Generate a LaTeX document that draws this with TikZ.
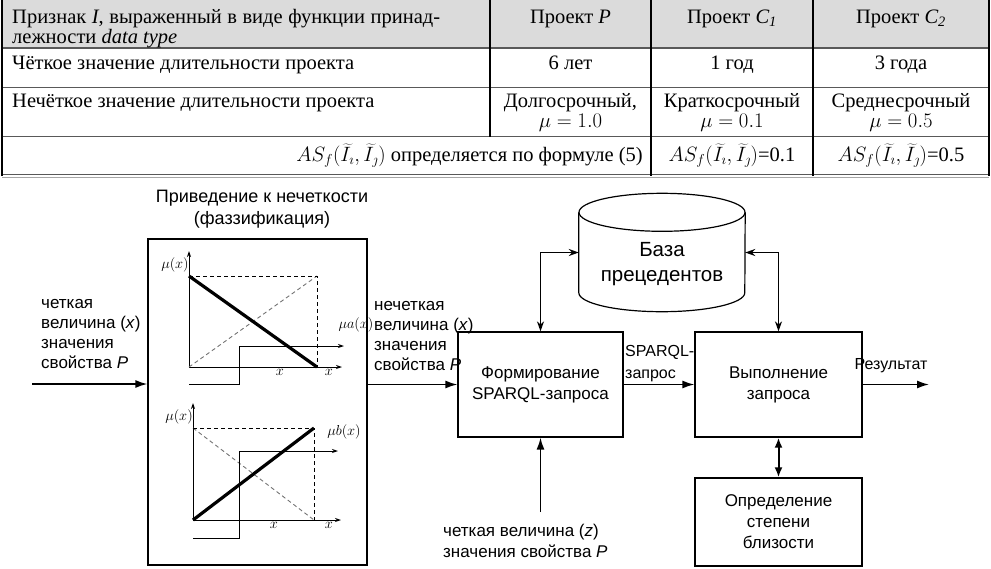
\documentclass[tikz,border=0pt]{standalone}
\usepackage{fontspec}
\setmainfont{Liberation Serif}
\setsansfont{Liberation Sans}
\usetikzlibrary{arrows.meta}
\begin{document}
\begin{tikzpicture}[x=1pt,y=-1pt,
  tt/.style={font=\fontsize{20.5}{20}\selectfont, inner sep=0pt},
  hline/.style={draw=black!65, line width=1.6pt},
  vline/.style={draw=black, line width=1.1pt},
  dt/.style={font=\sffamily\fontsize{17}{20.3}\selectfont, inner sep=0pt, align=left},
  box/.style={draw, line width=1.3pt, align=center, font=\sffamily\fontsize{17}{21}\selectfont, inner sep=0pt},
  conn/.style={line width=1.5pt, -{Latex[length=12pt,width=8pt]}},
  dconn/.style={line width=1.4pt, {Stealth[length=10pt,width=7pt]}-{Stealth[length=10pt,width=7pt]}},
  bconn/.style={line width=2pt, {Latex[length=10pt,width=8pt]}-{Latex[length=10pt,width=8pt]}},
  axis/.style={line width=0.9pt, -{Stealth[length=6pt,width=4pt]}},
  thick line/.style={line width=3.2pt},
  dsh/.style={line width=0.9pt, dash pattern=on 4pt off 3pt},
  gdsh/.style={line width=0.9pt, dash pattern=on 4pt off 3pt, draw=black!55},
  glab/.style={font=\fontsize{13.5}{13.5}\selectfont, inner sep=0pt}
]
\useasboundingbox (0,0) rectangle (991,568);

% ---------------- table ----------------
\fill[black!14] (2,0) rectangle (989,48);
\draw[hline] (2,48) -- (989,48);
\draw[hline] (2,87.5) -- (989,87.5);
\draw[hline] (2,136.5) -- (989,136.5);
\draw[hline] (2,174.5) -- (989,174.5);
\draw[draw=black!35, line width=1pt] (2,177.5) -- (989,177.5);
\draw[vline] (2,0) -- (2,176);
\draw[vline] (490,0) -- (490,136.5);
\draw[vline] (651,0) -- (651,176);
\draw[vline] (813,0) -- (813,176);
\draw[vline] (989,0) -- (989,176);

\node[tt, anchor=base west] (h1a) at (12,23) {\makebox[428pt][s]{Признак \textit{I}, выраженный в виде функции принад-}};
\node[tt, anchor=base west] (h1b) at (12,43) {лежности \textit{data type}};
\node[tt, anchor=base] (h2) at (570.5,23) {Проект \textit{P}};
\node[tt, anchor=base] (h3) at (732,23) {Проект \textit{C\textsubscript{1}}};
\node[tt, anchor=base] (h4) at (901,23) {Проект \textit{C\textsubscript{2}}};

\node[tt, anchor=base west] (r1a) at (12,69) {Чёткое значение длительности проекта};
\node[tt, anchor=base] (r1b) at (570.5,69) {6 лет};
\node[tt, anchor=base] (r1c) at (732,69) {1 год};
\node[tt, anchor=base] (r1d) at (901,69) {3 года};

\node[tt, anchor=base west] (r2a) at (12,107) {Нечёткое значение длительности проекта};
\node[tt, anchor=base] (r2b) at (570.5,107) {Долгосрочный,};
\node[tt, anchor=base] (r2c) at (732,107) {Краткосрочный};
\node[tt, anchor=base] (r2d) at (901,107) {Среднесрочный};
\node[tt, anchor=base] (r2e) at (570.5,127) {$\mu = 1.0$};
\node[tt, anchor=base] (r2f) at (732,127) {$\mu = 0.1$};
\node[tt, anchor=base] (r2g) at (901,127) {$\mu = 0.5$};

\node[tt, anchor=base east] (r3a) at (643,161) {$AS_f\bigl(\widetilde{I}_\imath,\widetilde{I}_\jmath\bigr)$ определяется по формуле (5)};
\node[tt, anchor=base] (r3b) at (732,161) {$AS_f\bigl(\widetilde{I}_\imath,\widetilde{I}_\jmath\bigr)$=0.1};
\node[tt, anchor=base] (r3c) at (901,161) {$AS_f\bigl(\widetilde{I}_\imath,\widetilde{I}_\jmath\bigr)$=0.5};

% ---------------- diagram ----------------
\node[font=\sffamily\fontsize{18}{22}\selectfont, align=center, inner sep=0pt] (title) at (262,209) {Приведение к нечеткости\\(фаззификация)};

\node[draw, line width=1.3pt, minimum width=219pt, minimum height=326pt, inner sep=0pt] (fz) at (257.5,402) {};

% top graph
\draw[axis] (189,367) -- (189,251);
\draw[axis] (189,367) -- (342,367);
\draw[gdsh] (189,367) -- (317,276);
\draw[dsh] (189,276) -- (317,276) -- (317,367);
\draw[thick line] (189,276) -- (317,367);
\draw[line width=0.9pt] (189,384) -- (239,384) -- (239,346);
\draw[axis] (239,346) -- (344,346);
\node[glab] (mu1) at (175,265) {$\mu(x)$};
\node[glab] (mua) at (356,325) {$\mu a(x)$};
\node[glab] (x1a) at (280,372) {$x$};
\node[glab] (x1b) at (329,372) {$x$};

% bottom graph
\draw[axis] (193,520) -- (193,403);
\draw[axis] (193,520) -- (341,520);
\draw[gdsh] (193,428) -- (314,520);
\draw[dsh] (193,428) -- (314,428) -- (314,520);
\draw[thick line] (193,520) -- (314,428);
\draw[line width=0.9pt] (193,538) -- (239,538) -- (239,451);
\draw[axis] (239,451) -- (338,451);
\node[glab] (mu2) at (179,417) {$\mu(x)$};
\node[glab] (mub) at (344,432) {$\mu b(x)$};
\node[glab] (x2a) at (274,525) {$x$};
\node[glab] (x2b) at (329,525) {$x$};

% input / output texts
\node[dt, anchor=west] (lt) at (41,334) {четкая\\величина (\textit{x})\\значения\\свойства \textit{P}};
\node[dt, anchor=west] (rt) at (374,336) {нечеткая\\величина (\textit{x})\\значения\\свойства \textit{P}};

\coordinate (xin) at (32,384);
\draw[conn] (xin) -- (xin -| fz.west);

% boxes
\node[box, minimum width=165pt, minimum height=105pt] (form) at (540.5,384.5) {Формирование\\SPARQL-запроса};
\node[box, minimum width=167pt, minimum height=105pt] (exec) at (778.5,384.5) {Выполнение\\запроса};
\node[box, minimum width=167pt, minimum height=88pt] (prox) at (778.5,522) {Определение\\степени\\близости};

\draw[conn] (fz.east |- form.west) -- (form.west);
\draw[conn] (form.east) -- (exec.west);
\node[font=\sffamily\fontsize{16}{22}\selectfont, align=left, inner sep=0pt, anchor=west] (sq) at (625,364) {SPARQL-\\запрос};

\coordinate (res) at (929,384.5);
\draw[conn] (exec.east) -- (res);
\node[font=\sffamily\fontsize{16}{18}\selectfont, inner sep=0pt] (rl) at (891,366) {Результат};

\draw[bconn] (exec.south) -- (prox.north);

\coordinate (zin) at (540.5,512);
\draw[conn] (zin) -- (form.south);
\node[dt, anchor=west] (zt) at (443,541) {четкая величина (\textit{z})\\значения свойства \textit{P}};

% database cylinder
\node[minimum width=166pt, minimum height=80pt, inner sep=0pt] (db) at (662,252.5) {};
\draw[line width=1.2pt] (db.north west) -- (db.south west)
   arc[start angle=180, end angle=360, x radius=83pt, y radius=19pt] -- (db.north east);
\draw[line width=1.2pt] (db.north) ellipse [x radius=83pt, y radius=19pt];
\node[font=\sffamily\fontsize{20.5}{25}\selectfont, align=center, inner sep=0pt] (dbt) at (662,264) {База\\прецедентов};

\draw[dconn] (form.north) |- (db.west);
\draw[dconn] (exec.north) |- (db.east);
\end{tikzpicture}
\end{document}
